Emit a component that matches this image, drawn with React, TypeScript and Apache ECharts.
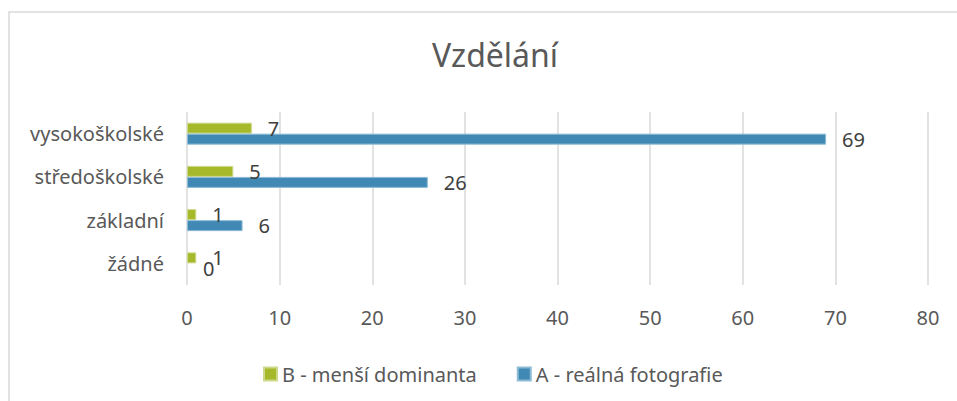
import React, { useEffect, useRef } from "react";
import * as echarts from "echarts";

const categories = ["žádné", "základní", "středoškolské", "vysokoškolské"];
const seriesA = [0, 6, 26, 69];
const seriesB = [1, 1, 5, 7];
const nameA = "A - reálná fotografie";
const nameB = "B - menší dominanta";
const title = "Vzdělání";
const xTicks = { min: 0, max: 80, interval: 10 };

const FONT = "'Noto Sans', sans-serif";

const toData = (arr: number[]) =>
  arr.map((v) => (v === 0 ? { value: v, itemStyle: { borderWidth: 0 } } : v));

export default function App() {
  const ref = useRef<HTMLDivElement>(null);
  useEffect(() => {
    document.body.style.margin = "0";
    const chart = echarts.init(ref.current!, null, { renderer: "svg" });
    const labelStyle = {
      show: true,
      position: "right" as const,
      distance: 16,
      color: "#404040",
      fontSize: 20,
      fontFamily: FONT,
    };
    chart.setOption({
      animation: false,
      textStyle: { fontFamily: FONT },
      title: {
        text: title,
        left: 490,
        top: 33,
        textAlign: "center",
        textStyle: { fontSize: 32, fontWeight: "normal", color: "#595959", fontFamily: FONT },
      },
      graphic: [
        {
          type: "rect",
          shape: { x: 9, y: 12, width: 1200, height: 800 },
          style: { fill: "none", stroke: "#d9d9d9", lineWidth: 1.5 },
          silent: true,
          z: -10,
        },
      ],
      legend: {
        data: [nameB, nameA],
        left: 258,
        top: 359,
        itemWidth: 13,
        itemHeight: 13,
        itemGap: 40,
        icon: "rect",
        textStyle: { fontSize: 20, color: "#595959", fontFamily: FONT },
      },
      grid: { left: 187, right: 29, top: 112, bottom: 116, containLabel: false },
      xAxis: {
        type: "value",
        min: xTicks.min,
        max: xTicks.max,
        interval: xTicks.interval,
        axisLine: { show: false },
        axisTick: { show: false },
        axisLabel: { fontSize: 20, color: "#595959", margin: 22, fontFamily: FONT },
        splitLine: { show: true, lineStyle: { color: "#d9d9d9", width: 1.5 } },
      },
      yAxis: {
        type: "category",
        data: categories,
        axisLine: { show: false },
        axisTick: { show: false },
        axisLabel: { fontSize: 20, color: "#595959", margin: 23, fontFamily: FONT },
        splitLine: { show: false },
      },
      series: [
        {
          name: nameB,
          type: "bar",
          data: toData(seriesB),
          barWidth: 11,
          barGap: "0%",
          itemStyle: { color: "#A5B92A", borderColor: "#cdd98a", borderWidth: 1 },
          label: labelStyle,
        },
        {
          name: nameA,
          type: "bar",
          data: toData(seriesA),
          barWidth: 11,
          barGap: "0%",
          itemStyle: { color: "#4189B5", borderColor: "#8dbbd6", borderWidth: 1 },
          label: labelStyle,
        },
      ],
    });
    return () => chart.dispose();
  }, []);
  return <div ref={ref} style={{ width: 957, height: 401 }} />;
}
